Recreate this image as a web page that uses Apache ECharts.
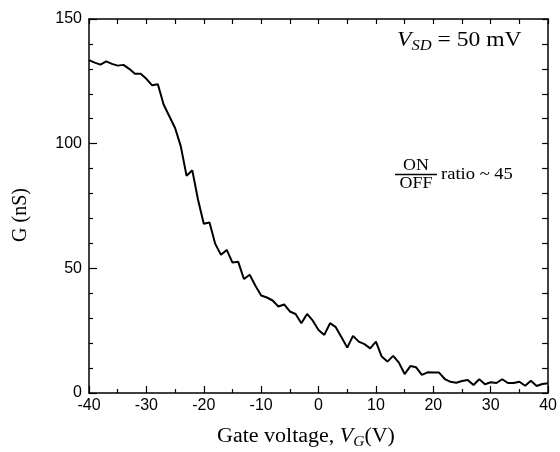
<!DOCTYPE html>
<html>
<head>
<meta charset="utf-8">
<script src="https://cdn.jsdelivr.net/npm/echarts@6/dist/echarts.min.js"></script>
<style>
  html, body { margin: 0; padding: 0; background: #fff; }
  #main { width: 560px; height: 452px; }
</style>
</head>
<body>
<div id="main"></div>
<script>
// gate voltage (V) and conductance (nS)
const gateVoltage = [
  -40, -39, -38, -37, -36, -35, -34, -33, -32, -31,
  -30, -29, -28, -27, -26, -25, -24, -23, -22, -21,
  -20, -19, -18, -17, -16, -15, -14, -13, -12, -11,
  -10, -9, -8, -7, -6, -5, -4, -3, -2, -1,
  0, 1, 2, 3, 4, 5, 6, 7, 8, 9,
  10, 11, 12, 13, 14, 15, 16, 17, 18, 19,
  20, 21, 22, 23, 24, 25, 26, 27, 28, 29,
  30, 31, 32, 33, 34, 35, 36, 37, 38, 39, 40
];
const conductance = [
  133.5, 132.5, 131.7, 133, 132, 131.3, 131.6, 130, 128, 128,
  126, 123.4, 123.8, 115.7, 111, 106.3, 98.9, 87.1, 89.3, 77.5,
  67.9, 68.4, 59.8, 55.4, 57.4, 52.3, 52.6, 45.7, 47.4, 43,
  39.1, 38.3, 37.1, 34.7, 35.5, 32.7, 31.7, 28, 31.7, 29,
  25.3, 23.3, 28, 26.4, 22.4, 18.2, 22.9, 20.6, 19.6, 17.9,
  20.6, 14.6, 12.6, 14.9, 12.2, 7.6, 10.8, 10.3, 7.3, 8.3,
  8.2, 8.2, 5.6, 4.5, 4.1, 4.8, 5.2, 3.2, 5.5, 3.5,
  4.3, 4, 5.5, 4, 4, 4.5, 2.9, 4.9, 2.8, 3.6, 3.9
];

const serif = '"Liberation Serif", "Times New Roman", serif';
const sans = '"Liberation Sans", Arial, sans-serif';

const chart = echarts.init(document.getElementById('main'));

const axisLine = { show: true, onZero: false, lineStyle: { color: '#000', width: 1.5 } };

chart.setOption({
  animation: false,
  backgroundColor: '#fff',
  grid: { left: 89, right: 10, top: 19, bottom: 59 },
  xAxis: [
    {
      type: 'value', min: -40, max: 40, interval: 10,
      axisLine: axisLine,
      axisTick: { show: true, inside: true, length: 7, lineStyle: { color: '#000', width: 1.2 } },
      minorTick: { show: true, splitNumber: 2, length: 4, lineStyle: { color: '#000', width: 1.2 } },
      axisLabel: { color: '#000', fontFamily: sans, fontSize: 16, margin: 5 },
      splitLine: { show: false }
    },
    {
      type: 'value', position: 'top', min: -40, max: 40, interval: 10,
      axisLine: axisLine,
      axisTick: { show: true, inside: true, length: 5, lineStyle: { color: '#000', width: 1.2 } },
      minorTick: { show: true, splitNumber: 2, length: 5, lineStyle: { color: '#000', width: 1.2 } },
      axisLabel: { show: false },
      splitLine: { show: false }
    }
  ],
  yAxis: [
    {
      type: 'value', min: 0, max: 150, interval: 50,
      axisLine: axisLine,
      axisTick: { show: true, inside: true, length: 8, lineStyle: { color: '#000', width: 1.2 } },
      minorTick: { show: true, splitNumber: 5, length: 4, lineStyle: { color: '#000', width: 1.2 } },
      axisLabel: { color: '#000', fontFamily: sans, fontSize: 16, margin: 7 },
      splitLine: { show: false }
    },
    {
      type: 'value', position: 'right', min: 0, max: 150, interval: 50,
      axisLine: axisLine,
      axisTick: { show: true, inside: true, length: 6, lineStyle: { color: '#000', width: 1.2 } },
      minorTick: { show: true, splitNumber: 5, length: 6, lineStyle: { color: '#000', width: 1.2 } },
      axisLabel: { show: false },
      splitLine: { show: false }
    }
  ],
  series: [{
    type: 'line',
    data: gateVoltage.map((v, i) => [v, conductance[i]]),
    showSymbol: false,
    lineStyle: { color: '#000', width: 2 },
    z: 1
  }],
  graphic: [
    {
      type: 'text', x: 21, y: 215, rotation: Math.PI / 2,
      style: { text: 'G (nS)', font: '20px ' + serif, fill: '#000', align: 'center', verticalAlign: 'middle' }
    },
    {
      type: 'text', x: 306, y: 437, scaleX: 1.1,
      style: {
        text: '{n|Gate voltage, }{i|V}{s|G}{n|(V)}',
        align: 'center', verticalAlign: 'middle', fill: '#000',
        rich: {
          n: { fontFamily: serif, fontSize: 20, lineHeight: 24 },
          i: { fontFamily: serif, fontSize: 20, fontStyle: 'italic', lineHeight: 24 },
          s: { fontFamily: serif, fontSize: 14, fontStyle: 'italic', lineHeight: 12, verticalAlign: 'bottom' }
        }
      }
    },
    {
      type: 'text', x: 397, y: 41, scaleX: 1.18,
      style: {
        text: '{i|V}{s|SD}{n| = 50 mV}',
        align: 'left', verticalAlign: 'middle', fill: '#000',
        rich: {
          n: { fontFamily: serif, fontSize: 20, lineHeight: 24 },
          i: { fontFamily: serif, fontSize: 20, fontStyle: 'italic', lineHeight: 24 },
          s: { fontFamily: serif, fontSize: 14, fontStyle: 'italic', lineHeight: 12, verticalAlign: 'bottom' }
        }
      }
    },
    {
      type: 'text', x: 416, y: 166, scaleX: 1.12,
      style: { text: 'ON', font: '16px ' + serif, fill: '#000', align: 'center', verticalAlign: 'middle' }
    },
    {
      type: 'line', shape: { x1: 395, y1: 174.5, x2: 437, y2: 174.5 },
      style: { stroke: '#000', lineWidth: 1.5 }
    },
    {
      type: 'text', x: 416, y: 184, scaleX: 1.12,
      style: { text: 'OFF', font: '16px ' + serif, fill: '#000', align: 'center', verticalAlign: 'middle' }
    },
    {
      type: 'text', x: 441, y: 175, scaleX: 1.16,
      style: { text: 'ratio ~ 45', font: '16px ' + serif, fill: '#000', align: 'left', verticalAlign: 'middle' }
    }
  ]
});
</script>
</body>
</html>
